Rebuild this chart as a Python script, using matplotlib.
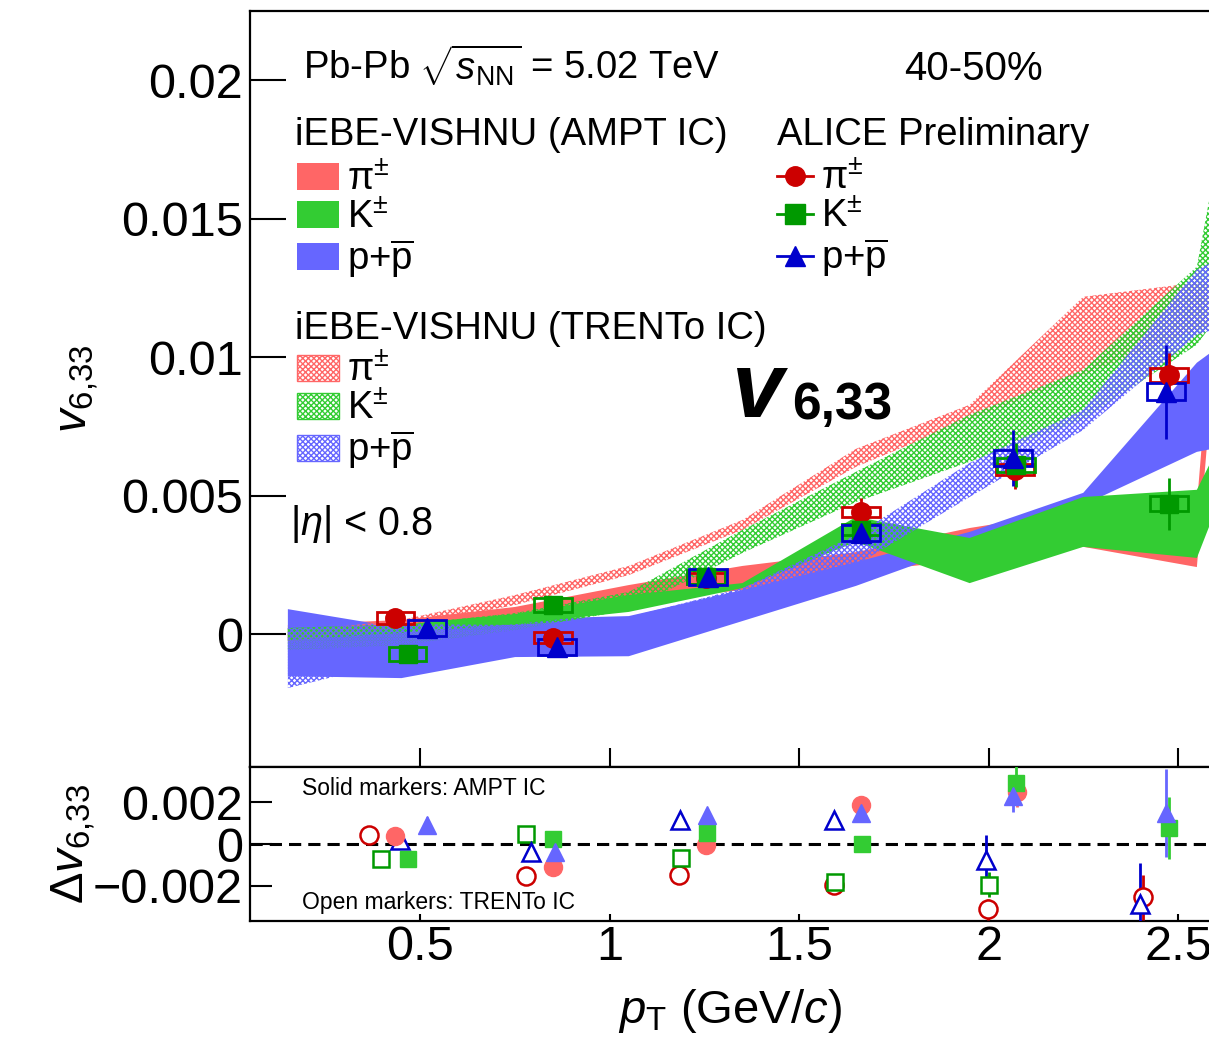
"""v6,33 vs pT for identified hadrons, 40-50% Pb-Pb, ALICE vs iEBE-VISHNU."""
import numpy as np
import matplotlib
matplotlib.use("Agg")
import matplotlib.pyplot as plt
from matplotlib.patches import Patch
from matplotlib.lines import Line2D

plt.rcParams.update({
    "font.family": "Liberation Sans",
    "mathtext.fontset": "custom",
    "mathtext.rm": "Liberation Sans",
    "mathtext.it": "Liberation Sans:italic",
    "mathtext.bf": "Liberation Sans:bold",
    "hatch.linewidth": 1.0,
})

# ---- hydro bands (iEBE-VISHNU), common pT grid ----
pt_th = [0.15, 0.45, 0.75, 1.05, 1.35, 1.65, 1.95, 2.25, 2.55, 2.85]

ampt_pi_lo = [-0.00022, 0.00004, 0.00043, 0.00116, 0.00159, 0.00224, 0.00268, 0.00315, 0.00242, 0.052]
ampt_pi_hi = [0.00033, 0.00051, 0.00098, 0.00177, 0.00246, 0.00296, 0.00383, 0.00448, 0.00466, 0.055]
ampt_k_lo = [-0.00022, 0.00004, 0.00036, 0.00080, 0.00166, 0.00333, 0.00184, 0.00315, 0.00275, 0.01323]
ampt_k_hi = [0.00022, 0.00036, 0.00072, 0.00141, 0.00184, 0.00423, 0.00347, 0.00495, 0.00521, 0.01345]
ampt_p_lo = [-0.00152, -0.00159, -0.00083, -0.00080, 0.00047, 0.00174, 0.00322, 0.00466, 0.00658, 0.00737]
ampt_p_hi = [0.00090, 0.00022, 0.00054, 0.00065, 0.00159, 0.00260, 0.00369, 0.00510, 0.00980, 0.01280]

trento_pi_lo = [-0.00029, 0.00025, 0.00105, 0.00213, 0.00376, 0.00604, 0.00774, 0.00936, 0.01099, 0.01207]
trento_pi_hi = [0.00007, 0.00051, 0.00141, 0.00246, 0.00412, 0.00669, 0.00828, 0.01218, 0.01269, 0.01316]
trento_k_lo = [-0.00058, -0.00040, 0.00014, 0.00087, 0.00293, 0.00477, 0.00622, 0.00774, 0.01045, 0.01600]
trento_k_hi = [0.00022, 0.00033, 0.00076, 0.00152, 0.00376, 0.00586, 0.00792, 0.00954, 0.01327, 0.03550]
trento_p_lo = [-0.00195, -0.00094, -0.00040, 0.00014, 0.00112, 0.00249, 0.00495, 0.00737, 0.01081, 0.01207]
trento_p_hi = [0.00022, 0.00036, 0.00033, 0.00061, 0.00166, 0.00358, 0.00618, 0.00810, 0.01316, 0.01515]

# ---- ALICE preliminary ----
pi_x = [0.434, 0.851, 1.255, 1.664, 2.070, 2.476]
pi_v = [0.00058, -0.00014, 0.00202, 0.00441, 0.00593, 0.00936]
pi_stat = [0.0002, 0.0002, 0.0002, 0.0005, 0.0007, 0.0008]
pi_sys = [0.0002, 0.0002, 0.0002, 0.00018, 0.0002, 0.00025]

k_x = [0.466, 0.851, 1.255, 1.664, 2.073, 2.476]
k_v = [-0.00072, 0.00105, 0.00206, 0.00376, 0.00611, 0.00470]
k_stat = [0.0002, 0.0002, 0.0002, 0.0004, 0.0008, 0.00095]
k_sys = [0.00025, 0.00025, 0.00025, 0.0002, 0.00025, 0.00027]

p_x = [0.518, 0.861, 1.260, 1.664, 2.065, 2.468]
p_v = [0.00022, -0.00047, 0.00206, 0.00365, 0.00636, 0.00875]
p_stat = [0.0002, 0.0002, 0.0003, 0.0004, 0.0010, 0.0017]
p_sys = [0.0003, 0.0003, 0.0003, 0.0003, 0.0003, 0.0003]

# ---- data - model differences ----
d_ampt_pi_x = [0.434, 0.851, 1.255, 1.664, 2.075]
d_ampt_pi = [0.00038, -0.0011, -0.00005, 0.00186, 0.00248]
d_ampt_pi_err = [0.0002, 0.0002, 0.0002, 0.0003, 0.0007]
d_ampt_k_x = [0.466, 0.851, 1.257, 1.666, 2.073, 2.476]
d_ampt_k = [-0.00071, 0.00024, 0.00052, 0.0, 0.00295, 0.00076]
d_ampt_k_err = [0.0002, 0.0002, 0.0002, 0.0003, 0.0008, 0.0015]
d_ampt_p_x = [0.518, 0.856, 1.257, 1.664, 2.065, 2.468]
d_ampt_p = [0.0009, -0.00038, 0.00138, 0.00148, 0.00233, 0.00148]
d_ampt_p_err = [0.0004, 0.0003, 0.0003, 0.0003, 0.0008, 0.0021]

d_tr_pi_x = [0.363, 0.780, 1.183, 1.592, 1.999, 2.408]
d_tr_pi = [0.00043, -0.00152, -0.00148, -0.00195, -0.00314, -0.00257]
d_tr_pi_err = [0.0002, 0.0002, 0.0002, 0.0003, 0.0005, 0.0011]
d_tr_k_x = [0.397, 0.780, 1.189, 1.595, 2.001]
d_tr_k = [-0.00071, 0.00048, -0.00067, -0.00181, -0.00195]
d_tr_k_err = [0.0002, 0.0002, 0.0002, 0.0003, 0.0006]
d_tr_p_x = [0.447, 0.793, 1.186, 1.592, 1.993, 2.400]
d_tr_p = [0.00019, -0.00038, 0.00114, 0.00114, -0.00076, -0.0029]
d_tr_p_err = [0.0002, 0.0002, 0.0002, 0.0002, 0.0012, 0.0020]

RED_S, GRN_S, BLU_S = "#ff6666", "#33cc33", "#6666ff"
RED_D, GRN_D, BLU_D = "#cc0000", "#009900", "#0000cc"
FS = 27.5
HATCH = "xxxxxx"

W, H = 1209, 1044
fig = plt.figure(figsize=(W / 100, H / 100), dpi=100)
ax = fig.add_axes([250 / W, 277 / H, 959 / W, 756 / H])
axr = fig.add_axes([250 / W, 123 / H, 959 / W, 154 / H])

# model bands
for lo, hi, c in [(ampt_pi_lo, ampt_pi_hi, RED_S), (ampt_p_lo, ampt_p_hi, BLU_S),
                  (ampt_k_lo, ampt_k_hi, GRN_S)]:
    ax.fill_between(pt_th, lo, hi, facecolor=c, lw=0)
for lo, hi, c in [(trento_pi_lo, trento_pi_hi, RED_S), (trento_k_lo, trento_k_hi, GRN_S),
                  (trento_p_lo, trento_p_hi, BLU_S)]:
    ax.fill_between(pt_th, lo, hi, facecolor="none", edgecolor=c, hatch=HATCH, lw=0)

# data: sys boxes + stat bars
for x, v, st, sy, c, m in [(pi_x, pi_v, pi_stat, pi_sys, RED_D, "o"),
                           (k_x, k_v, k_stat, k_sys, GRN_D, "s"),
                           (p_x, p_v, p_stat, p_sys, BLU_D, "^")]:
    x, v, sy = np.array(x), np.array(v), np.array(sy)
    ax.bar(x, 2 * sy, width=0.1, bottom=v - sy, fill=False, edgecolor=c, lw=2, zorder=4)
    ax.errorbar(x, v, yerr=st, fmt=m, color=c, ms=14 if m != "s" else 13,
                elinewidth=2, capsize=0, zorder=5)

ax.set_xlim(0.05, 2.582)
ax.set_ylim(-0.0048, 0.0225)
ax.set_yticks([0, 0.005, 0.01, 0.015, 0.02], labels=["0", "0.005", "0.01", "0.015", "0.02"])
ax.set_xticks([0.5, 1, 1.5, 2, 2.5])
ax.tick_params(axis="y", direction="in", length=26, width=1.5, labelsize=35, pad=5)
ax.tick_params(axis="x", direction="in", length=14, width=1.5, labelbottom=False)
ax.spines["right"].set_visible(False)
for s in ["left", "top", "bottom"]:
    ax.spines[s].set_linewidth(1.6)
ax.set_ylabel(r"$v_{6{,}33}$", fontsize=34)
ax.yaxis.set_label_coords(-0.155, 0.5)

T = ax.transAxes
ax.text(0.0553, 0.9087, r"Pb-Pb $\sqrt{s_{\rm NN}}$ = 5.02 TeV", fontsize=FS, transform=T)
ax.text(0.682, 0.9087, "40-50%", fontsize=29, transform=T)
ax.text(0.0417, 0.307, r"$|\eta|$ < 0.8", fontsize=28.5, transform=T)
ax.text(0.5027, 0.463, "v", fontsize=67, fontweight="bold", fontstyle="italic", transform=T)
ax.text(0.5655, 0.46, "6,33", fontsize=37, fontweight="bold", transform=T)

# legends: titles as plain text, entries as untitled legends
ax.text(0.0469, 0.823, "iEBE-VISHNU (AMPT IC)", fontsize=FS, transform=T)
ax.text(0.5495, 0.823, "ALICE Preliminary", fontsize=FS, transform=T)
ax.text(0.0469, 0.566, "iEBE-VISHNU (TRENTo IC)", fontsize=FS, transform=T)

labels = ["π$^{\\pm}$", "K$^{\\pm}$", r"p+$\overline{\rm p}$"]
leg_kw = dict(frameon=False, fontsize=FS, loc="upper left", handletextpad=0.2,
              labelspacing=0.04, borderpad=0, borderaxespad=0)
leg1 = ax.legend([Patch(facecolor=c, lw=0) for c in (RED_S, GRN_S, BLU_S)], labels,
                 bbox_to_anchor=(0.0489, 0.801), handlelength=1.1, handleheight=0.7, **leg_kw)
ax.add_artist(leg1)
leg2 = ax.legend([Line2D([], [], color=c, marker=m, ms=14, lw=2)
                  for c, m in ((RED_D, "o"), (GRN_D, "s"), (BLU_D, "^"))], labels,
                 bbox_to_anchor=(0.5495, 0.802), handlelength=0.95, **leg_kw)
ax.add_artist(leg2)
ax.legend([Patch(facecolor="none", edgecolor=c, hatch=HATCH, lw=1) for c in (RED_S, GRN_S, BLU_S)],
          labels, bbox_to_anchor=(0.0489, 0.548), handlelength=1.1, handleheight=0.7, **leg_kw)

# lower panel: data minus model
axr.axhline(0, color="k", lw=2.2, ls=(0, (4, 2.3)))
for x, d, e, c, m in [(d_ampt_pi_x, d_ampt_pi, d_ampt_pi_err, RED_S, "o"),
                      (d_ampt_k_x, d_ampt_k, d_ampt_k_err, GRN_S, "s"),
                      (d_ampt_p_x, d_ampt_p, d_ampt_p_err, BLU_S, "^")]:
    axr.errorbar(x, d, yerr=e, fmt=m, color=c, ms=13 if m != "s" else 12,
                 elinewidth=2, capsize=0, zorder=4)
for x, d, e, c, m in [(d_tr_pi_x, d_tr_pi, d_tr_pi_err, RED_D, "o"),
                      (d_tr_k_x, d_tr_k, d_tr_k_err, GRN_D, "s"),
                      (d_tr_p_x, d_tr_p, d_tr_p_err, BLU_D, "^")]:
    axr.errorbar(x, d, yerr=e, fmt="none", ecolor=c, elinewidth=2, capsize=0, zorder=3)
    axr.plot(x, d, m, color=c, mfc="white", mew=1.8, ms=13 if m != "s" else 12, zorder=4)

axr.set_xlim(0.05, 2.582)
axr.set_ylim(-0.0037, 0.0037)
axr.set_yticks([-0.002, 0, 0.002], labels=["\u22120.002", "0", "0.002"])
axr.set_xticks([0.5, 1, 1.5, 2, 2.5], labels=["0.5", "1", "1.5", "2", "2.5"])
axr.tick_params(axis="y", direction="in", length=16, width=1.5, labelsize=35, pad=5)
axr.tick_params(axis="x", direction="in", length=5, width=1.5, labelsize=35, pad=3)
axr.spines["right"].set_visible(False)
for s in ["left", "top", "bottom"]:
    axr.spines[s].set_linewidth(1.6)
axr.set_ylabel(r"$\Delta v_{6{,}33}$", fontsize=34)
axr.yaxis.set_label_coords(-0.158, 0.5)
axr.set_xlabel(r"$p_{\rm T}$ (GeV/$c$)", fontsize=34)
axr.xaxis.set_label_coords(0.5, -0.43)
axr.text(0.0542, 0.818, "Solid markers: AMPT IC", fontsize=16.5, transform=axr.transAxes)
axr.text(0.0542, 0.078, "Open markers: TRENTo IC", fontsize=16.5, transform=axr.transAxes)

fig.savefig("out.png", dpi=100)
